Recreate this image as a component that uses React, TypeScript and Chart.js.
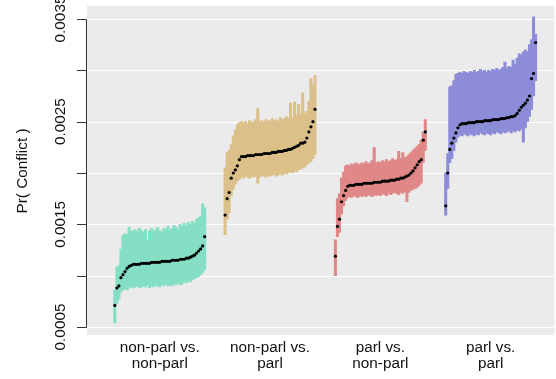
import React, { useEffect, useRef } from "react";
import { Chart, registerables } from "chart.js";

Chart.register(...registerables);

// Dyad types shown along the horizontal axis
const groupLabels: string[][] = [
  ["non-parl vs.", "non-parl"],
  ["non-parl vs.", "parl"],
  ["parl vs.", "non-parl"],
  ["parl vs.", "parl"],
];

const groupColors = ["#84dfc4", "#dbc08a", "#e08888", "#8c8cd8"];

// Y axis ticks (every one gets a grid line, every other one a label)
const yTickValues = [0.0005, 0.001, 0.0015, 0.002, 0.0025, 0.003, 0.0035];
const yTickLabels = ["0.0005", "", "0.0015", "", "0.0025", "", "0.0035"];
const yTitle = "Pr( Conflict )";

// Sorted estimates with lower / upper interval bounds, one triple per group
const est1 = [.00071,.00088,.00090,.00098,.00101,.00104,.00107,.00109,.00110,.00111,.00111,.00111,.00111,.00112,.00112,.00112,.00112,.00112,.00113,.00113,.00113,.00113,.00113,.00114,.00114,.00114,.00114,.00114,.00115,.00115,.00115,.00115,.00116,.00116,.00116,.00117,.00117,.00118,.00119,.00120,.00122,.00124,.00126,.00129,.00138];
const lo1 = [.00054,.00073,.00077,.00084,.00086,.00087,.00086,.00088,.00089,.00088,.00089,.00090,.00088,.00089,.00090,.00089,.00091,.00088,.00090,.00089,.00091,.00090,.00089,.00091,.00090,.00092,.00090,.00091,.00090,.00092,.00091,.00093,.00091,.00092,.00094,.00093,.00095,.00094,.00096,.00097,.00098,.00099,.00101,.00103,.00106];
const hi1 = [.00086,.00108,.00110,.00126,.00139,.00141,.00140,.00147,.00143,.00144,.00145,.00143,.00146,.00144,.00142,.00145,.00134,.00144,.00146,.00143,.00145,.00147,.00144,.00142,.00146,.00145,.00148,.00144,.00146,.00149,.00147,.00145,.00150,.00148,.00151,.00149,.00152,.00150,.00153,.00151,.00155,.00156,.00158,.00170,.00166];

const est2 = [.00159,.00175,.00181,.00195,.00200,.00203,.00207,.00213,.00216,.00216,.00216,.00217,.00217,.00217,.00217,.00218,.00218,.00218,.00218,.00219,.00219,.00219,.00219,.00220,.00220,.00220,.00221,.00221,.00221,.00222,.00222,.00223,.00223,.00224,.00225,.00226,.00227,.00229,.00229,.00230,.00234,.00240,.00245,.00250,.00262];
const lo2 = [.00140,.00155,.00161,.00178,.00184,.00189,.00192,.00194,.00196,.00195,.00197,.00196,.00195,.00197,.00196,.00197,.00190,.00196,.00198,.00197,.00196,.00198,.00197,.00198,.00199,.00197,.00198,.00199,.00198,.00200,.00199,.00200,.00201,.00200,.00202,.00201,.00203,.00204,.00205,.00206,.00208,.00210,.00211,.00214,.00218];
const hi2 = [.00205,.00220,.00222,.00228,.00236,.00242,.00247,.00249,.00250,.00249,.00250,.00248,.00251,.00249,.00250,.00252,.00263,.00250,.00251,.00249,.00252,.00250,.00251,.00253,.00251,.00252,.00250,.00254,.00252,.00253,.00255,.00253,.00268,.00254,.00269,.00256,.00267,.00257,.00278,.00258,.00260,.00270,.00292,.00286,.00295];

const est3 = [.00119,.00148,.00155,.00172,.00178,.00183,.00187,.00188,.00188,.00188,.00189,.00189,.00189,.00189,.00190,.00190,.00190,.00190,.00190,.00191,.00191,.00191,.00191,.00192,.00192,.00192,.00192,.00193,.00193,.00193,.00194,.00194,.00195,.00195,.00196,.00197,.00198,.00200,.00202,.00205,.00208,.00211,.00213,.00232,.00240];
const lo3 = [.00100,.00138,.00142,.00160,.00168,.00173,.00176,.00177,.00176,.00178,.00177,.00176,.00178,.00177,.00178,.00177,.00179,.00178,.00177,.00179,.00178,.00179,.00178,.00180,.00179,.00178,.00180,.00179,.00180,.00181,.00180,.00179,.00181,.00180,.00182,.00172,.00181,.00183,.00184,.00185,.00186,.00188,.00190,.00210,.00222];
const hi3 = [.00135,.00175,.00180,.00195,.00201,.00207,.00208,.00207,.00209,.00208,.00210,.00209,.00208,.00210,.00209,.00211,.00209,.00210,.00212,.00225,.00210,.00211,.00210,.00212,.00211,.00213,.00211,.00212,.00214,.00212,.00213,.00221,.00214,.00220,.00215,.00216,.00218,.00220,.00222,.00224,.00226,.00228,.00232,.00240,.00252];

const est4 = [.00168,.00200,.00223,.00229,.00234,.00239,.00244,.00247,.00248,.00248,.00248,.00249,.00249,.00249,.00249,.00250,.00250,.00250,.00250,.00251,.00251,.00251,.00251,.00252,.00252,.00252,.00252,.00253,.00253,.00253,.00254,.00254,.00255,.00255,.00256,.00258,.00261,.00264,.00266,.00268,.00271,.00275,.00292,.00297,.00327];
const lo4 = [.00159,.00185,.00210,.00214,.00222,.00230,.00235,.00237,.00236,.00238,.00237,.00236,.00238,.00237,.00236,.00238,.00237,.00239,.00238,.00237,.00239,.00238,.00237,.00239,.00238,.00240,.00239,.00238,.00240,.00239,.00240,.00241,.00239,.00241,.00240,.00242,.00241,.00243,.00230,.00244,.00250,.00255,.00262,.00275,.00290];
const hi4 = [.00200,.00219,.00284,.00285,.00290,.00296,.00297,.00298,.00297,.00299,.00298,.00297,.00299,.00298,.00300,.00298,.00299,.00301,.00299,.00300,.00298,.00300,.00299,.00301,.00300,.00302,.00300,.00301,.00303,.00308,.00302,.00304,.00303,.00310,.00306,.00312,.00316,.00315,.00318,.00320,.00318,.00325,.00330,.00352,.00335];

const groups = [
  { est: est1, lo: lo1, hi: hi1 },
  { est: est2, lo: lo2, hi: hi2 },
  { est: est3, lo: lo3, hi: hi3 },
  { est: est4, lo: lo4, hi: hi4 },
];

const W = 556;
const H = 379;
const FONT = '"Liberation Sans", Arial, Helvetica, sans-serif';
const SPREAD = 0.815; // width of each caterpillar in x units

function positions(n: number, center: number): number[] {
  return Array.from({ length: n }, (_, j) => center + ((j - (n - 1) / 2) / (n - 1)) * SPREAD);
}

const panelPlugin = {
  id: "panel",
  beforeDatasetsDraw(chart: any) {
    const { ctx, chartArea: a } = chart;
    const y = chart.scales.y;
    ctx.save();
    ctx.fillStyle = "#ebebeb";
    ctx.fillRect(a.left, a.top, a.right - a.left, a.bottom - a.top);
    ctx.strokeStyle = "#ffffff";
    ctx.lineWidth = 1;
    for (const v of yTickValues) {
      const py = Math.round(y.getPixelForValue(v)) + 0.5;
      ctx.beginPath();
      ctx.moveTo(a.left, py);
      ctx.lineTo(a.right, py);
      ctx.stroke();
    }
    ctx.restore();
  },
  afterDraw(chart: any) {
    const { ctx } = chart;
    const x = chart.scales.x;
    const y = chart.scales.y;
    ctx.save();
    // y axis line and ticks
    const top = Math.round(y.getPixelForValue(yTickValues[yTickValues.length - 1])) + 0.5;
    const bot = Math.round(y.getPixelForValue(yTickValues[0])) + 0.5;
    ctx.strokeStyle = "#333333";
    ctx.lineWidth = 1;
    ctx.beginPath();
    ctx.moveTo(86.5, top);
    ctx.lineTo(86.5, bot);
    for (const v of yTickValues) {
      const py = Math.round(y.getPixelForValue(v)) + 0.5;
      ctx.moveTo(77, py);
      ctx.lineTo(86.5, py);
    }
    ctx.stroke();

    ctx.fillStyle = "#111111";
    ctx.font = `15.3px ${FONT}`;
    ctx.textAlign = "center";
    ctx.textBaseline = "alphabetic";
    yTickValues.forEach((v, i) => {
      const label = yTickLabels[i];
      if (!label) return;
      ctx.save();
      ctx.translate(65, y.getPixelForValue(v));
      ctx.rotate(-Math.PI / 2);
      ctx.fillText(label, 0, 0);
      ctx.restore();
    });

    // y axis title
    ctx.save();
    ctx.translate(27, 171);
    ctx.rotate(-Math.PI / 2);
    ctx.fillText(yTitle, 0, 0);
    ctx.restore();

    // group labels
    groupLabels.forEach((lines, g) => {
      const px = x.getPixelForValue(g + 1);
      lines.forEach((t, k) => ctx.fillText(t, px, 351.5 + k * 16));
    });
    ctx.restore();
  },
};

export default function App() {
  const ref = useRef<HTMLCanvasElement | null>(null);

  useEffect(() => {
    if (!ref.current) return;
    const datasets: any[] = [];
    groups.forEach((grp, g) => {
      const xs = positions(grp.est.length, g + 1);
      datasets.push({
        type: "scatter",
        data: grp.est.map((v, j) => ({ x: xs[j], y: v })),
        backgroundColor: "#000000",
        borderWidth: 0,
        pointRadius: 1.6,
        pointHoverRadius: 1.6,
        showLine: false,
        order: 1,
      });
      datasets.push({
        type: "bar",
        data: grp.est.map((_, j) => ({ x: xs[j], y: [grp.lo[j], grp.hi[j]] })),
        backgroundColor: groupColors[g],
        borderWidth: 0,
        barThickness: 2.4,
        grouped: false,
        order: 2,
      });
    });

    const chart = new Chart(ref.current, {
      type: "bar",
      data: { datasets },
      options: {
        animation: false,
        responsive: false,
        devicePixelRatio: 1,
        layout: { padding: { left: 87, top: 6, right: 0, bottom: 44 } },
        plugins: { legend: { display: false }, tooltip: { enabled: false } },
        scales: {
          x: { type: "linear", min: 0.3404, max: 4.578, offset: false, display: false },
          y: { type: "linear", min: 0.000422, max: 0.0036266, display: false },
        },
      },
      plugins: [panelPlugin],
    } as any);
    return () => chart.destroy();
  }, []);

  return (
    <div style={{ position: "absolute", left: 0, top: 0, width: W, height: H, background: "#ffffff" }}>
      <canvas ref={ref} width={W} height={H} style={{ display: "block", width: W, height: H }} />
    </div>
  );
}
